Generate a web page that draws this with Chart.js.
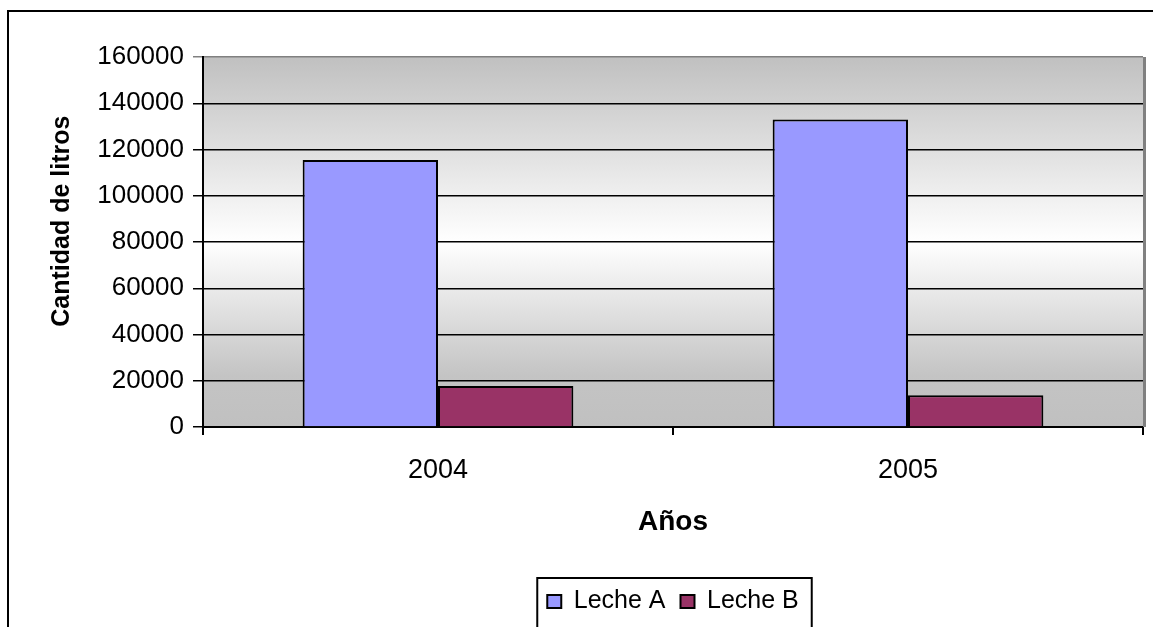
<!DOCTYPE html>
<html>
<head>
<meta charset="utf-8">
<script src="https://cdn.jsdelivr.net/npm/chart.js@4"></script>
<style>
    html, body { margin: 0; padding: 0; background: #ffffff; }
    #wrap { width: 1153px; height: 627px; position: relative; }
</style>
</head>
<body>
<div id="wrap"><canvas id="chart" width="1153" height="627"></canvas></div>
<script>
// Data
const years = ['2004', '2005'];
const lecheA = [115500, 133000];
const lecheB = [17700, 13700];
const seriesNames = ['Leche A', 'Leche B'];
const seriesColors = ['#9999ff', '#993366'];

const FONT = '"Liberation Sans", Arial, sans-serif';

// Frame, gradient plot background and legend box
const decorPlugin = {
    id: 'decor',
    beforeDraw(chart) {
        const ctx = chart.ctx;
        const a = chart.chartArea;
        ctx.save();
        ctx.fillStyle = '#ffffff';
        ctx.fillRect(0, 0, chart.width, chart.height);

        const g = ctx.createLinearGradient(0, a.top, 0, a.bottom);
        g.addColorStop(0, '#c0c0c0');
        g.addColorStop(0.5, '#ffffff');
        g.addColorStop(0.86, '#c4c4c4');
        g.addColorStop(1, '#c0c0c0');
        ctx.fillStyle = g;
        ctx.fillRect(a.left, a.top, a.right - a.left, a.bottom - a.top);

        // outer chart frame
        ctx.strokeStyle = '#000000';
        ctx.lineWidth = 2;
        ctx.strokeRect(8, 11, 2000, 2000);
        ctx.restore();
    },
    afterDraw(chart) {
        const ctx = chart.ctx;
        const a = chart.chartArea;
        ctx.save();
        // gray plot edge on the right
        ctx.strokeStyle = '#808080';
        ctx.lineWidth = 3;
        ctx.beginPath();
        ctx.moveTo(a.right + 1.5, a.top);
        ctx.lineTo(a.right + 1.5, a.bottom);
        ctx.stroke();

        // legend frame
        const boxes = chart.legend.legendHitBoxes;
        if (boxes && boxes.length) {
            const first = boxes[0];
            const last = boxes[boxes.length - 1];
            const left = first.left - 10;
            const right = last.left + last.width + 13;
            const top = first.top - 11;
            ctx.strokeStyle = '#000000';
            ctx.lineWidth = 2;
            ctx.strokeRect(left, top, right - left, 200);
        }
        ctx.restore();
    }
};

const ctx = document.getElementById('chart').getContext('2d');

new Chart(ctx, {
    type: 'bar',
    data: {
        labels: years,
        datasets: [
            {
                label: seriesNames[0],
                data: lecheA,
                backgroundColor: seriesColors[0],
                borderColor: '#000000',
                borderWidth: 2
            },
            {
                label: seriesNames[1],
                data: lecheB,
                backgroundColor: seriesColors[1],
                borderColor: '#000000',
                borderWidth: 2
            }
        ]
    },
    options: {
        responsive: false,
        animation: false,
        events: [],
        layout: {
            padding: { top: 57, right: 10, left: 0, bottom: 3 }
        },
        datasets: {
            bar: {
                categoryPercentage: 0.576,
                barPercentage: 1
            }
        },
        scales: {
            x: {
                grid: {
                    offset: true,
                    drawOnChartArea: false,
                    drawTicks: true,
                    tickLength: 8,
                    color: '#000000',
                    lineWidth: 2
                },
                border: { color: '#000000', width: 2 },
                ticks: {
                    color: '#000000',
                    font: { family: FONT, size: 27 },
                    padding: 19,
                    maxRotation: 0
                },
                title: {
                    display: true,
                    text: 'Años',
                    color: '#000000',
                    font: { family: FONT, size: 28, weight: 'bold' },
                    padding: { top: 0, bottom: 35 }
                },
                afterFit(scale) {
                    scale.height = 147;
                }
            },
            y: {
                min: 0,
                max: 160000,
                grid: {
                    color: (c) => c.tick && c.tick.value === 160000 ? '#808080' : '#000000',
                    lineWidth: 1.5,
                    tickLength: 10
                },
                border: { color: '#000000', width: 2 },
                ticks: {
                    stepSize: 20000,
                    color: '#000000',
                    font: { family: FONT, size: 26 },
                    padding: 9,
                    callback: (v) => String(v)
                },
                title: {
                    display: true,
                    // leading spaces nudge the rotated title upward like the original
                    text: '      Cantidad de litros',
                    color: '#000000',
                    font: { family: FONT, size: 25, weight: 'bold' },
                    padding: { top: 47, bottom: 0 }
                },
                afterFit(scale) {
                    scale.width = 203;
                }
            }
        },
        plugins: {
            legend: {
                position: 'bottom',
                fullSize: false,
                labels: {
                    color: '#000000',
                    font: { family: FONT, size: 25 },
                    boxWidth: 14,
                    boxHeight: 13,
                    padding: 15
                }
            },
            tooltip: { enabled: false }
        }
    },
    plugins: [decorPlugin]
});
</script>
</body>
</html>
